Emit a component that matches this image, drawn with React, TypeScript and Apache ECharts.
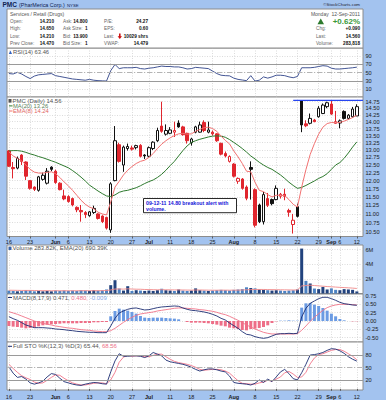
import React, { useEffect, useRef } from "react";
import * as echarts from "echarts";

// ---------- DATA ----------
const dates = [
  "5/16","5/17","5/18","5/19","5/20","5/23","5/24","5/25","5/26","5/27","5/31",
  "6/1","6/2","6/3","6/6","6/7","6/8","6/9","6/10","6/13","6/14","6/15","6/16","6/17","6/20","6/21","6/22","6/23","6/24","6/27","6/28","6/29","6/30",
  "7/1","7/5","7/6","7/7","7/8","7/11","7/12","7/13","7/14","7/15","7/18","7/19","7/20","7/21","7/22","7/25","7/26","7/27","7/28","7/29",
  "8/1","8/2","8/3","8/4","8/5","8/8","8/9","8/10","8/11","8/12","8/15","8/16","8/17","8/18","8/19","8/22","8/23","8/24","8/25","8/26","8/29","8/30","8/31",
  "9/1","9/2","9/6","9/7","9/8","9/9","9/12",
];
const xTicks: [string, string][] = [
  ["5/16","16"],["5/23","23"],["6/1","Jun"],["6/6","6"],["6/13","13"],["6/20","20"],["6/27","27"],
  ["7/1","Jul"],["7/11","11"],["7/18","18"],["7/25","25"],["8/1","Aug"],["8/8","8"],["8/15","15"],
  ["8/22","22"],["8/29","29"],["9/1","Sep"],["9/6","6"],["9/12","12"],
];
const monthLabels = ["Jun","Jul","Aug","Sep"];

const open = [12.97,12.42,12.40,12.83,12.60,12.00,11.80,11.70,12.04,11.92, 12.43,12.30,11.92,11.53,11.51,11.45,11.19,11.10,11.04,10.95, 11.04,11.00,10.94,10.90,10.55,12.00,13.18,12.50,13.05,13.07, 13.08,13.16,12.83,12.79,13.05,13.32,13.84,13.55,13.58,13.62, 13.95,13.81,13.58,13.25,13.62,13.62,13.97,13.62,13.62,13.56, 13.23,12.88,12.62,12.53,11.98,12.05,11.80,12.42,11.72,11.26, 10.78,11.45,11.42,11.42,11.52,11.58,11.10,10.70,11.21,14.78, 13.92,13.94,14.06,14.18,14.30,14.56,14.66,13.94,13.95,14.38, 14.12,14.18,14.21];
const high = [13.00,12.60,12.78,12.86,12.62,12.02,11.82,12.15,12.25,12.40, 12.46,12.35,11.95,11.72,11.55,11.48,11.22,11.26,11.08,11.08, 11.24,11.02,10.96,10.92,11.95,13.84,13.25,13.15,13.22,13.15, 13.18,13.20,12.86,13.12,13.30,13.78,14.75,13.90,13.80,14.00, 14.05,13.85,13.60,13.42,13.85,14.00,14.05,14.00,13.68,13.58, 13.25,12.95,12.82,12.56,12.10,12.08,11.85,12.62,11.76,11.30, 11.65,11.62,11.45,11.85,11.62,11.75,11.15,11.00,11.30,14.80, 14.05,14.30,14.10,14.58,14.68,14.75,14.78,14.40,14.08,14.42, 14.28,14.55,14.65];
const low = [12.44,12.07,12.36,12.50,12.02,11.72,11.68,11.66,12.00,11.88, 12.30,11.90,11.70,11.40,11.33,11.22,11.05,10.78,10.88,10.92, 11.00,10.84,10.74,10.56,10.47,11.98,12.58,12.28,12.98,12.98, 13.02,12.75,12.70,12.75,13.00,13.28,13.60,13.50,13.55,13.45, 13.78,13.50,13.22,13.15,13.58,13.60,13.62,13.58,13.50,13.28, 12.82,12.75,12.58,12.10,11.90,11.72,11.40,11.42,10.62,10.74, 10.70,11.20,11.25,11.40,11.45,11.40,10.92,10.45,10.90,13.62, 13.80,13.90,13.98,14.15,14.28,14.50,14.25,13.92,13.76,14.08, 14.08,14.15,14.21];
const close = [12.46,12.38,12.72,12.62,12.14,11.76,11.73,12.12,12.17,12.30, 12.36,11.94,11.72,11.44,11.36,11.26,11.12,11.06,10.98,11.06, 11.16,10.87,10.78,10.60,11.90,13.32,12.62,13.10,13.12,13.03, 13.15,12.79,12.80,13.08,13.27,13.68,13.65,13.68,13.70,13.68, 13.81,13.53,13.32,13.38,13.81,13.88,13.68,13.70,13.56,13.32, 12.86,12.80,12.78,12.14,12.07,11.76,11.46,12.36,10.68,10.78, 11.57,11.25,11.30,11.76,11.58,11.52,11.05,10.82,10.93,13.88, 13.85,14.12,14.00,14.50,14.62,14.71,14.28,14.00,14.03,14.12, 14.24,14.47,14.56];
const priorClose = 13.05;

const ma20 = [12.97,12.98,12.98,12.96,12.92,12.87,12.83,12.78,12.74,12.69, 12.64,12.59,12.53,12.47,12.41,12.32,12.22,12.11,11.99,11.86, 11.77,11.68,11.60,11.53,11.51,11.56,11.64,11.68,11.70,11.74, 11.78,11.84,11.91,11.97,12.02,12.10,12.20,12.33,12.48,12.62, 12.80,12.98,13.14,13.26,13.32,13.37,13.41,13.45,13.48,13.49, 13.48,13.44,13.36,13.26,13.16,13.05,12.93,12.80,12.70,12.59, 12.50,12.42,12.36,12.27,12.18,12.07,11.95,11.85,11.76,11.79, 11.85,11.92,11.99,12.07,12.13,12.22,12.36,12.50,12.58,12.72, 12.90,13.10,13.28];
const ema8 = [12.94,12.80,12.72,12.64,12.50,12.36,12.27,12.24,12.24,12.26, 12.28,12.22,12.10,11.96,11.84,11.70,11.55,11.40,11.28,11.20, 11.15,11.05,11.00,10.97,11.35,11.80,11.98,12.18,12.33,12.45, 12.55,12.62,12.66,12.75,12.88,13.05,13.20,13.32,13.42,13.50, 13.56,13.58,13.55,13.56,13.65,13.72,13.78,13.80,13.75,13.65, 13.48,13.33,13.21,12.97,12.77,12.55,12.30,12.28,11.95,11.70, 11.66,11.57,11.50,11.55,11.55,11.54,11.42,11.28,11.20,11.80, 12.35,12.85,13.22,13.55,13.80,13.93,13.97,13.96,13.97,14.02, 14.08,14.15,14.24];
const breakoutPrice = 14.80;
const breakoutFrom = "8/19";

const rsi14 = [48,47,51,47,41,36,42,45,46,47, 48,43,41,39,37,35,34,33,32,34, 32,31,30.5,30,55,70,60,62,62,62, 63,60,59,61,62,64,66,65,65,64, 64,62,59,60,63,62,61,60,54,48, 44,43,42.5,37,34,32.5,31,43,30,32, 40,37,40,44,44,43,40,38,41,62, 62,62,63,65,67,66,61,59,59,60, 61,62,63.46];

// volume in millions of shares
const volume = [0.40,0.35,0.30,0.35,0.45,0.40,0.30,0.35,0.30,0.35, 0.30,0.40,0.35,0.40,0.35,0.40,0.35,0.45,0.40,0.35, 0.45,0.40,0.45,0.55,1.14,1.82,0.68,0.40,1.00,0.35, 0.45,0.40,0.35,0.40,0.35,0.45,0.65,0.45,0.40,0.35, 0.55,0.40,0.35,0.40,0.70,0.45,0.40,0.35,0.40,0.45, 0.50,0.45,0.40,0.50,0.55,0.60,0.85,0.75,0.70,0.55, 0.50,0.45,0.40,0.45,0.40,0.35,0.40,0.45,0.55,6.15, 1.73,1.37,0.68,0.60,0.90,0.55,0.70,0.50,0.45,0.60, 0.55,0.50,0.284];
const volEma20 = [0.45,0.44,0.43,0.42,0.42,0.42,0.41,0.40,0.39,0.39, 0.38,0.38,0.38,0.38,0.38,0.38,0.38,0.39,0.39,0.38, 0.39,0.39,0.40,0.41,0.48,0.61,0.62,0.60,0.64,0.61, 0.59,0.58,0.55,0.54,0.52,0.51,0.52,0.51,0.50,0.49, 0.49,0.48,0.47,0.46,0.48,0.48,0.47,0.46,0.45,0.45, 0.46,0.46,0.45,0.46,0.46,0.48,0.51,0.53,0.55,0.55, 0.55,0.54,0.53,0.52,0.51,0.50,0.49,0.48,0.49,1.03, 1.10,1.13,1.09,1.04,1.00,0.95,0.92,0.88,0.84,0.81, 0.78,0.74,0.69];

const macdLine = [0.13,0.07,0.02,-0.05,-0.12,-0.16,-0.20,-0.20,-0.20,-0.21, -0.22,-0.24,-0.25,-0.26,-0.28,-0.29,-0.31,-0.32,-0.33,-0.34, -0.34,-0.35,-0.35,-0.35,-0.15,0.08,0.24,0.30,0.35,0.38, 0.39,0.36,0.33,0.34,0.37,0.40,0.42,0.43,0.44,0.45, 0.44,0.39,0.35,0.32,0.31,0.29,0.27,0.24,0.20,0.15, 0.08,0.03,-0.06,-0.14,-0.22,-0.32,-0.40,-0.42,-0.47,-0.50, -0.52,-0.50,-0.45,-0.40,-0.38,-0.38,-0.37,-0.38,-0.37,0.12, 0.38,0.53,0.60,0.67,0.71,0.71,0.67,0.62,0.56,0.52, 0.50,0.48,0.471];
const macdSignal = [0.28,0.24,0.20,0.15,0.10,0.05,0.00,-0.04,-0.07,-0.10, -0.12,-0.15,-0.17,-0.19,-0.21,-0.22,-0.24,-0.26,-0.27,-0.28, -0.30,-0.31,-0.32,-0.32,-0.29,-0.22,-0.13,-0.04,0.04,0.11, 0.17,0.21,0.23,0.25,0.27,0.30,0.32,0.34,0.36,0.38, 0.39,0.39,0.38,0.37,0.36,0.34,0.33,0.31,0.29,0.26, 0.22,0.19,0.14,0.08,0.02,-0.05,-0.12,-0.18,-0.24,-0.29, -0.34,-0.37,-0.39,-0.39,-0.39,-0.39,-0.39,-0.39,-0.38,-0.28, -0.15,-0.01,0.11,0.22,0.32,0.40,0.45,0.48,0.50,0.50, 0.50,0.49,0.480];

const stoK = [52,37,27,29,23,14,11,14,18,28, 36,34,25,17,14,11,9,8,11,13, 15,14,12,11,40,66,83,77,77,78, 78,77,74,78,86,82,78,68,64,62, 60,58,55,51,46,42,45,47,47,45, 42,40,30,15,13,12,11,9,13,21, 15,23,17,28,40,46,36,24,21,38, 58,80,81,83,86,91,95,94,90,84, 76,70,65.44];
const stoD = [58,48,39,31,26,22,16,13,14,20, 27,33,32,25,19,14,11,9,9,11, 13,14,14,12,21,39,63,75,79,77, 78,78,76,76,79,82,82,76,70,65, 62,60,58,55,51,46,44,45,46,46, 45,42,37,28,19,13,12,11,11,14, 16,20,18,23,28,38,41,35,27,28, 39,59,73,81,83,87,91,93,93,89, 83,77,68.56];

const priceTicks = [10.5,10.75,11,11.25,11.5,11.75,12,12.25,12.5,12.75,13,13.25,13.5,13.75,14,14.25,14.5,14.75];
const rsiTicks = [10,30,50,70,90];
const volTicks = [2,4,6];
const macdTicks = [-0.5,-0.25,0,0.25,0.5,0.75];
const stoTicks = [20,50,80];

const quoteCol1: [string, string][] = [["Open:","14.210"],["High:","14.650"],["Low:","14.210"],["Prev Close:","14.470"]];
const quoteCol2: [string, string][] = [["Ask:","14.800"],["Ask Size:","1"],["Bid:","13.900"],["Bid Size:","1"]];
const quoteCol3: [string, string][] = [["P/E:","24.27"],["EPS:","0.60"],["Last:","10029 shrs"],["VWAP:","14.479"]];
const quoteCol4: [string, string][] = [["Chg:","+0.090"],["Last:","14.560"],["Volume:","283,818"]];

// ---------- STYLE ----------
const FONT = "Liberation Sans, Arial, Helvetica, sans-serif";
const BG = "#a3c3ef";
const RED = "#e0262e";
const BLACK = "#111111";
const NAVY = "#1c2d72";
const PINK = "#f07488";

function buildOption() {
  const N = dates.length;
  const X_MIN = -0.45;
  const X_MAX = N + 0.45;
  const ln = Math.log;
  const tickIdx = xTicks.map((t) => dates.indexOf(t[0]));
  const tickText: Record<number, string> = {};
  xTicks.forEach((t) => { tickText[dates.indexOf(t[0])] = t[1]; });

  const panels = [
    { top: 48, height: 49, min: -8.43, max: 109.6, ticks: rsiTicks, fmt: (v: number) => String(v) },
    { top: 97, height: 139.5, min: 2.3389, max: 2.7035, ticks: priceTicks.map((p) => ln(p)), fmt: (v: number) => Math.exp(v).toFixed(2) },
    { top: 245, height: 48.5, min: 0, max: 6.64, ticks: volTicks, fmt: (v: number) => v + "M" },
    { top: 294, height: 48, min: -0.63, max: 0.809, ticks: macdTicks, fmt: (v: number) => v.toFixed(2) },
    { top: 342, height: 48, min: -2.84, max: 110.8, ticks: stoTicks, fmt: (v: number) => String(v) },
  ];

  const dotted = { color: "#cdcdcd", width: 0.7, type: [1, 1.5] as any };

  const grid = panels.map((p) => ({
    left: 7, width: 356, top: p.top, height: p.height,
    show: true, backgroundColor: "#ffffff", borderColor: "#8c8c8c", borderWidth: 1,
  }));

  const xAxis = panels.map((p, i) => {
    const showLab = i === 1 || i === 4;
    return {
      type: "value", gridIndex: i, min: X_MIN, max: X_MAX,
      axisLine: { show: false },
      axisTick: { show: showLab, customValues: tickIdx, length: 2, lineStyle: { color: "#444", width: 0.8 } },
      axisLabel: {
        show: showLab, customValues: tickIdx, margin: i === 1 ? 2.5 : 3.5,
        fontSize: 5.5, fontFamily: FONT, color: "#1a1a1a",
        formatter: (v: number) => {
          const t = tickText[Math.round(v)] ?? "";
          return monthLabels.includes(t) ? `{m|${t}}` : t;
        },
        rich: { m: { fontSize: 5.5, fontWeight: "bold", fontFamily: FONT, color: "#1a1a1a" } },
      },
      splitLine: { show: true, lineStyle: dotted },
    };
  });

  const yAxis = panels.map((p, i) => ({
    type: "value", gridIndex: i, position: "right", min: p.min, max: p.max,
    axisLine: { show: false },
    axisTick: { show: false, customValues: p.ticks },
    axisLabel: { customValues: p.ticks, formatter: p.fmt, margin: 2.5, fontSize: 5.6, fontFamily: FONT, color: "#1a1a1a" },
    splitLine: { show: true, lineStyle: dotted },
  }));

  const pair = (arr: number[], f: (v: number) => number = (v) => v) => arr.map((v, i) => [i, f(v)]);
  const prevClose = (i: number) => (i === 0 ? priorClose : close[i - 1]);

  const candles = dates.map((_, i) => {
    const o = open[i], c = close[i];
    const col = c >= prevClose(i) ? BLACK : RED;
    const style = c > o
      ? { color: "#ffffff", borderColor: col }
      : { color0: col, borderColor0: col };
    return { value: [i, ln(o), ln(c), ln(low[i]), ln(high[i])], itemStyle: style };
  });

  const refLines = (solid: number[], dashed: number[]) => ({
    silent: true, symbol: ["none", "none"], label: { show: false }, animation: false,
    emphasis: { disabled: true },
    data: [
      ...solid.map((v) => ({ yAxis: v, lineStyle: { color: "#9a9a9a", width: 1, type: "solid" } })),
      ...dashed.map((v) => ({ yAxis: v, lineStyle: { color: "#b4b4b4", width: 1, type: [5, 2, 1, 2] } })),
    ],
  });

  const line = (xi: number, data: any[], color: string, width = 0.9, extra: any = {}) => ({
    type: "line", xAxisIndex: xi, yAxisIndex: xi, data, symbol: "none", showSymbol: false,
    lineStyle: { color, width }, itemStyle: { color }, silent: true, ...extra,
  });

  const bStart = dates.indexOf(breakoutFrom);

  const series: any[] = [
    line(0, pair(rsi14), "#2e4288", 0.9, { markLine: refLines([70, 30], [50]) }),
    { type: "candlestick", xAxisIndex: 1, yAxisIndex: 1, barWidth: 3, data: candles, silent: true },
    line(1, pair(ma20, ln), "#2e7a2e", 1),
    line(1, pair(ema8, ln), "#f27272", 1),
    line(1, [[bStart, ln(breakoutPrice)], [X_MAX, ln(breakoutPrice)]], "#2846f0", 1.4),
    {
      type: "bar", xAxisIndex: 2, yAxisIndex: 2, barWidth: 3, silent: true,
      data: volume.map((v, i) => ({ value: [i, v], itemStyle: { color: close[i] >= prevClose(i) ? "#22437e" : "#4c82c3" } })),
    },
    line(2, pair(volEma20), "#f08a8a", 0.9),
    {
      type: "bar", xAxisIndex: 3, yAxisIndex: 3, barWidth: 3, silent: true,
      data: macdLine.map((m, i) => {
        const h = m - macdSignal[i];
        return { value: [i, h], itemStyle: { color: h >= 0 ? "#6b9be3" : "#ee6f88" } };
      }),
    },
    line(3, pair(macdSignal), PINK, 0.9),
    line(3, pair(macdLine), NAVY, 0.9),
    line(4, pair(stoD), PINK, 0.9, { markLine: refLines([80, 20], [50]) }),
    line(4, pair(stoK), NAVY, 0.9),
  ];

  // ---------- graphic texts ----------
  const g: any[] = [];
  const text = (x: number, y: number, t: string, o: any = {}) =>
    g.push({
      type: "text", x, y, z: 100, silent: true,
      style: {
        text: t, fill: o.color || "#333", fontSize: o.size || 4.7, fontFamily: FONT,
        fontWeight: o.bold ? "bold" : "normal", align: o.align || "left", verticalAlign: "middle",
        rich: o.rich,
      },
    });
  const seg = (x1: number, y1: number, x2: number, y2: number, color: string, w = 1) =>
    g.push({ type: "line", z: 100, silent: true, shape: { x1, y1, x2, y2 }, style: { stroke: color, lineWidth: w } });

  // title strip
  text(2.5, 4.8, "PMC", { bold: true, size: 6.5, color: "#0f2250" });
  text(19, 4.8, "(PharMerica Corp.)", { size: 5.4, color: "#0f2250" });
  text(67, 5, "NYSE", { size: 4.3, color: "#0f2250" });
  text(360, 4.6, "\u00a9StockCharts.com", { size: 4.4, color: "#223", align: "right" });

  // header box
  g.push({ type: "rect", z: 90, silent: true, shape: { x: 7, y: 9, width: 356, height: 39 }, style: { fill: "#fff", stroke: "#8c8c8c", lineWidth: 1 } });
  text(10, 14, "Services / Retail (Drugs)", { color: "#555", size: 5 });
  text(360, 14, "Monday  12-Sep-2011", { color: "#555", align: "right", size: 5 });
  const rowY = [21.5, 28.8, 36, 43.3];
  const lab = "#666";
  quoteCol1.forEach(([l, v], r) => { text(10, rowY[r], l, { color: lab }); text(54, rowY[r], v, { bold: true, color: BLACK, align: "right" }); });
  quoteCol2.forEach(([l, v], r) => { text(63, rowY[r], l, { color: lab }); text(87.5, rowY[r], v, { bold: true, color: BLACK, align: "right" }); });
  quoteCol3.forEach(([l, v], r) => { text(104, rowY[r], l, { color: lab }); text(148, rowY[r], v, { bold: true, color: BLACK, align: "right" }); });
  g.push({ type: "polygon", z: 100, silent: true, shape: { points: [[119, 33.4], [120.6, 33.4], [120.6, 36.2], [122, 36.2], [119.8, 39], [117.6, 36.2], [119, 36.2]] }, style: { fill: "#cc1010" } });
  g.push({ type: "polygon", z: 100, silent: true, shape: { points: [[317.5, 24.3], [324, 24.3], [320.75, 18.5]] }, style: { fill: "#2d7a2d" } });
  text(360, 21.2, "+0.62%", { bold: true, size: 8, color: "#3a9a3a", align: "right" });
  quoteCol4.forEach(([l, v], r) => { text(316, rowY[r + 1], l, { color: lab }); text(360, rowY[r + 1], v, { bold: true, color: BLACK, align: "right" }); });

  // panel legends
  g.push({ type: "polygon", z: 100, silent: true, shape: { points: [[8.8, 54], [12, 54], [10.4, 50.6]] }, style: { fill: "#3464c4" } });
  text(13, 52.3, "RSI(14) 63.46", { size: 5.8, color: "#555" });

  g.push({ type: "rect", z: 100, silent: true, shape: { x: 8.5, y: 99, width: 3, height: 3.6 }, style: { fill: "#555" } });
  text(12.5, 100.8, "PMC (Daily) 14.56", { size: 6, color: "#555" });
  seg(9, 105.9, 12.5, 105.9, "#2e7a2e");
  text(13, 105.9, "MA(20) 13.26", { size: 5.8, color: "#5a7f5a" });
  seg(9, 111, 12.5, 111, "#f27272");
  text(13, 111, "EMA(8) 14.24", { size: 5.8, color: "#e06464" });

  g.push({ type: "rect", z: 100, silent: true, shape: { x: 8.5, y: 246.6, width: 3, height: 3.4 }, style: { fill: "#3a64a8" } });
  text(12.5, 248.4, "Volume 283.82K, EMA(20) 690.39K", { size: 6, color: "#555" });

  seg(8, 297.5, 12, 297.5, NAVY);
  text(13, 297.5, "{a|MACD(8,17,9) 0.471,} {b|0.480,} {c|-0.009}", {
    size: 6, color: "#555",
    rich: {
      a: { fill: "#555", fontSize: 6, fontFamily: FONT },
      b: { fill: "#ee6f88", fontSize: 6, fontFamily: FONT },
      c: { fill: "#7fa6e6", fontSize: 6, fontFamily: FONT },
    },
  });

  seg(8, 346.3, 12, 346.3, NAVY);
  text(13, 346.3, "{a|Full STO %K(12,3) %D(3) 65.44,} {b|68.56}", {
    size: 6, color: "#555",
    rich: {
      a: { fill: "#555", fontSize: 6, fontFamily: FONT },
      b: { fill: "#ee6f88", fontSize: 6, fontFamily: FONT },
    },
  });

  // annotation box
  g.push({ type: "rect", z: 100, silent: true, shape: { x: 143.5, y: 198.5, width: 93, height: 14.2 }, style: { fill: "#fff", stroke: "#111", lineWidth: 0.9 } });
  text(146, 202.7, "09-12-11 14.80 breakout alert with", { bold: true, size: 5.2, color: "#1414d8" });
  text(146, 208.6, "volume.", { bold: true, size: 5.2, color: "#1414d8" });

  return {
    animation: false,
    backgroundColor: BG,
    textStyle: { fontFamily: FONT },
    grid, xAxis, yAxis, series,
    graphic: { elements: g },
  };
}

export default function App() {
  const ref = useRef<HTMLDivElement>(null);
  useEffect(() => {
    if (!ref.current) return;
    const chart = echarts.init(ref.current, null, { renderer: "svg" });
    chart.setOption(buildOption() as any);
    return () => chart.dispose();
  }, []);
  return <div ref={ref} style={{ position: "fixed", left: 0, top: 0, width: 386, height: 400 }} />;
}
